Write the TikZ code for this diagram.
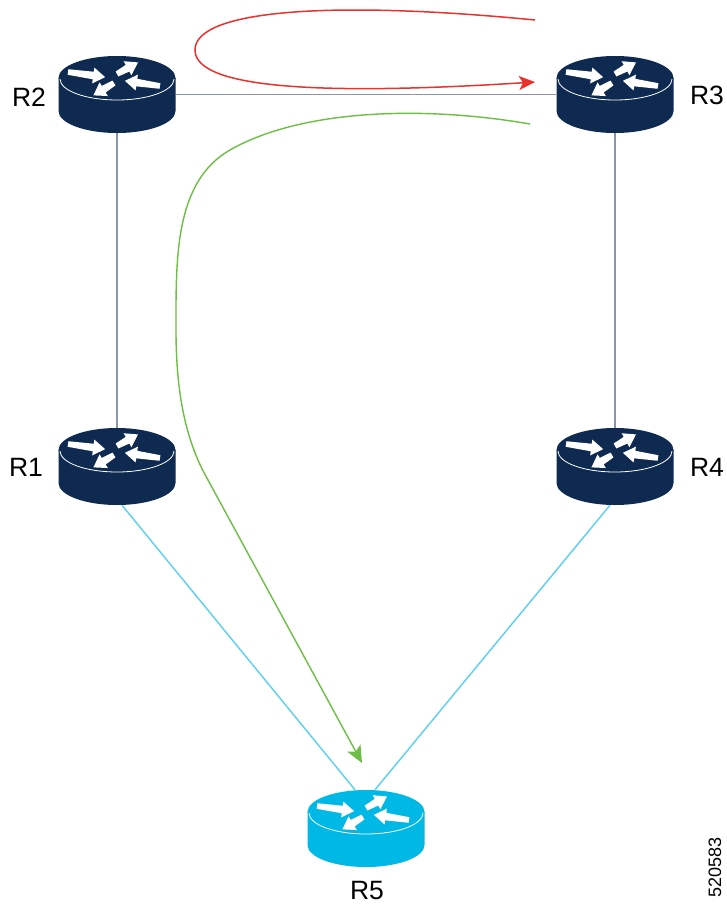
\documentclass[tikz,border=0pt]{standalone}
\usepackage{fontspec}
\setmainfont{Liberation Sans}
\usetikzlibrary{arrows.meta}
\definecolor{navy}{HTML}{0E2A50}
\definecolor{rcyan}{HTML}{00B8E6}
\definecolor{wirecyan}{HTML}{5BCFF2}
\definecolor{wiregray}{HTML}{8A95A8}
\definecolor{pathred}{HTML}{E8322B}
\definecolor{pathgreen}{HTML}{6DBE45}
\tikzset{
  rbox/.style={rectangle, minimum width=117pt, minimum height=77pt, inner sep=0pt},
  lbl/.style={font=\fontsize{26.5}{30}\selectfont, inner sep=0pt},
  numlbl/.style={font=\fontsize{18}{20}\selectfont, inner sep=0pt, rotate=90},
  wire/.style={draw=wiregray, line width=1.2pt},
  cyanwire/.style={draw=wirecyan, line width=1.4pt},
  redpath/.style={draw=pathred, line width=1.5pt, -{Stealth[length=16pt,width=14pt,inset=4pt]}},
  greenpath/.style={draw=pathgreen, line width=1.4pt, -{Stealth[length=17pt,width=15pt,inset=4pt]}},
  pics/rarr/.style={code={
    \fill[white] (0,-2.8) -- (#1-12,-3.8) -- (#1-12,-8) -- (#1,0)
      -- (#1-12,8) -- (#1-12,3.8) -- (0,2.8) -- cycle;
  }},
  pics/router/.style={code={
    \fill[#1] (-58.5,0) -- (-58.5,33) arc (180:0:58.5 and 22) -- (58.5,0) -- cycle;
    \fill[#1] (0,0) ellipse (58.5 and 22);
    \draw[white, line width=0.8pt] (-57,1) arc (180:0:57 and 21);
    \pic[rotate=-7.9] at (-49,-6) {rarr=37.5};
    \pic[rotate=28.8] at (0,-4) {rarr=24};
    \pic[rotate=-188.4] at (43,8) {rarr=35.5};
    \pic[rotate=-149] at (-3,5) {rarr=24};
  }}
}
\begin{document}
\begin{tikzpicture}[x=1pt, y=-1pt]
\useasboundingbox (0,0) rectangle (726,905);
% router anchor nodes
\node[rbox] (R2) at (117,94.5) {};
\node[rbox] (R3) at (615,94.5) {};
\node[rbox] (R1) at (117,466.5) {};
\node[rbox] (R4) at (615,466.5) {};
\node[rbox] (R5) at (366,828.5) {};
% links
\draw[wire] (R2) -- (R3);
\draw[wire] (R2) -- (R1);
\draw[wire] (R3) -- (R4);
\draw[cyanwire] ([xshift=5pt]R1.south) -- ([xshift=-11pt]R5.north);
\draw[cyanwire] ([xshift=-5pt]R4.south) -- ([xshift=9pt]R5.north);
% routers
\pic at (117,78) {router=navy};
\pic at (615,78) {router=navy};
\pic at (117,450) {router=navy};
\pic at (615,450) {router=navy};
\pic at (366,812) {router=rcyan};
% labels
\node[lbl] (L2) at (29,97) {R2};
\node[lbl] (L3) at (707,95) {R3};
\node[lbl] (L1) at (26,467) {R1};
\node[lbl] (L4) at (707,467) {R4};
\node[lbl] (L5) at (367,891) {R5};
\node[numlbl] (num) at (715,867) {520583};
% flow paths
\coordinate (rs) at (535,20);
\coordinate (rt) at (535,82);
\draw[redpath] (rs) .. controls (330,0) and (195,10) .. (195,50)
  .. controls (195,90) and (330,95) .. (rt);
\coordinate (gs) at (530,124);
\coordinate (gt) at (362,763);
\draw[greenpath] (gs) .. controls (420,105) and (300,110) .. (230,150)
  .. controls (174,182) and (176,260) .. (176,330)
  .. controls (176,400) and (188,445) .. (208,480) -- (gt);
\end{tikzpicture}
\end{document}
